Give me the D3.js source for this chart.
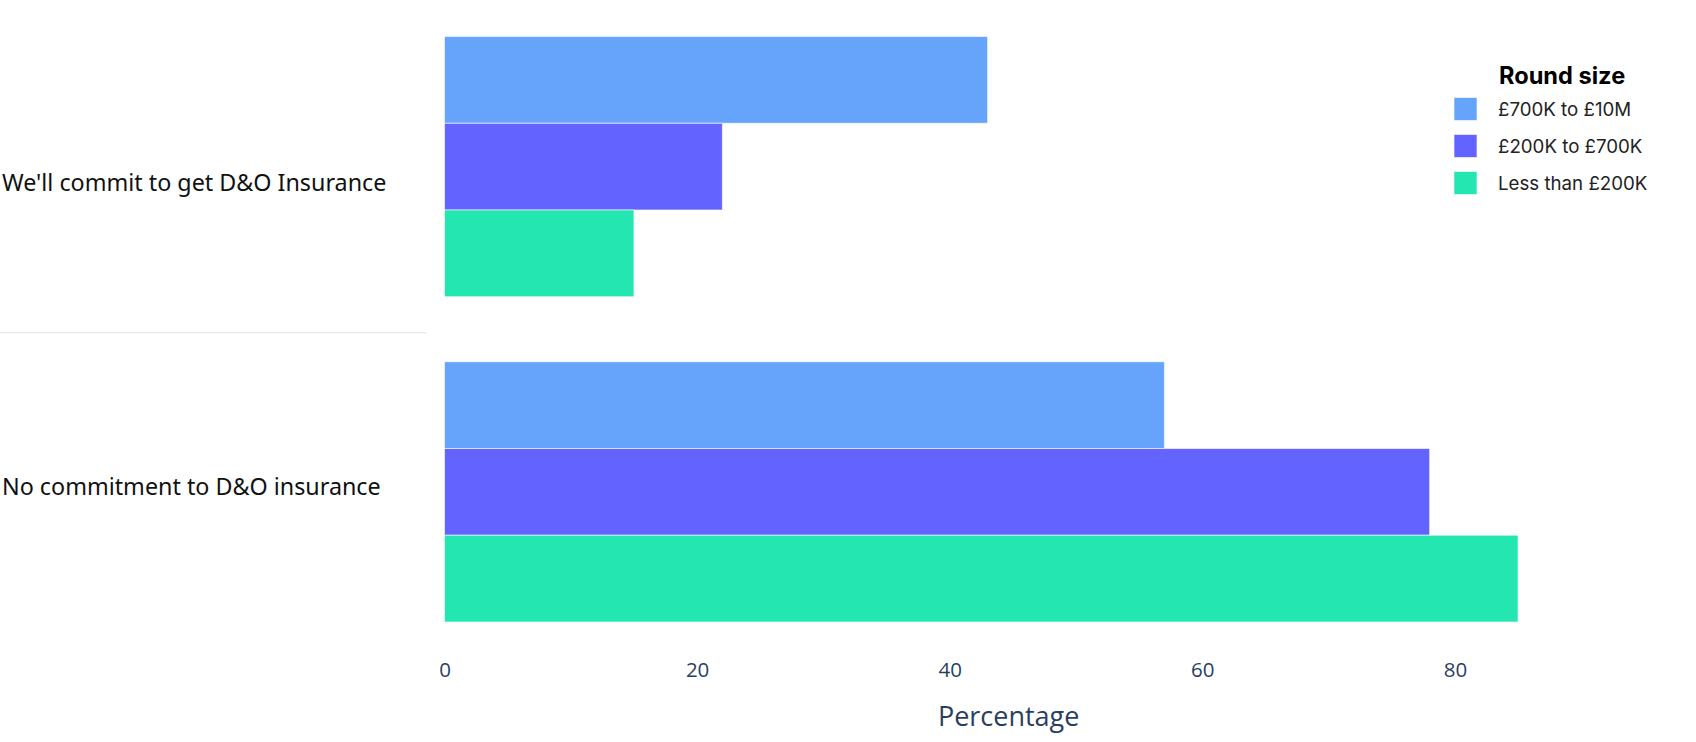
<!DOCTYPE html>
<html><head><meta charset="utf-8">
<script src="https://cdn.jsdelivr.net/npm/d3@7"></script>
<style>
html,body{margin:0;padding:0;background:#fff;}
svg{display:block;}
</style></head>
<body>
<svg id="chart" width="1696" height="742"></svg>
<script>
const categories = ["We'll commit to get D&O Insurance", "No commitment to D&O insurance"];
const seriesNames = ["£700K to £10M", "£200K to £700K", "Less than £200K"];
const valuesHigh = [43, 57];   // £700K to £10M
const valuesMid = [22, 78];    // £200K to £700K
const valuesLow = [15, 85];    // Less than £200K
const xTicks = [0, 20, 40, 60, 80];
const legendTitle = "Round size";
const xTitle = "Percentage";

const colors = ["#66a4fb", "#6363ff", "#23e6b0"];
const seriesValues = [valuesHigh, valuesMid, valuesLow];

const svg = d3.select("#chart");
const left = 444.5, pxPerUnit = 12.63;
const x = d3.scaleLinear().domain([0, 89.5]).range([left, left + 89.5 * pxPerUnit]);
const y = d3.scaleBand().domain(categories).range([4, 654.5]).padding(0);
const yInner = d3.scaleBand().domain(seriesNames)
  .range([y.bandwidth() * 0.1, y.bandwidth() * 0.9]).padding(0);

// separator line in label area
svg.append("line")
  .attr("x1", 0).attr("x2", 426)
  .attr("y1", y(categories[1]) + 3.5).attr("y2", y(categories[1]) + 3.5)
  .attr("stroke", "#e1e1e1").attr("stroke-width", 1.2);

// bars
seriesNames.forEach((s, si) => {
  svg.append("g").selectAll("rect")
    .data(categories.map((c, ci) => ({c, v: seriesValues[si][ci]})))
    .join("rect")
    .attr("x", x(0))
    .attr("y", d => y(d.c) + yInner(s))
    .attr("width", d => x(d.v) - x(0))
    .attr("height", yInner.bandwidth())
    .attr("fill", colors[si])
    .attr("stroke", "#ffffff").attr("stroke-opacity", 0.6).attr("stroke-width", 1);
});

// category labels
const labelDy = [24.5, 2.8];
svg.append("g").selectAll("text")
  .data(categories)
  .join("text")
  .attr("x", 2)
  .attr("y", (d, i) => y(d) + y.bandwidth() / 2 + labelDy[i])
  .attr("font-family", "'Noto Sans', 'Open Sans', sans-serif")
  .attr("font-size", 23.3)
  .attr("fill", "#111")
  .text(d => d);

// x axis
const xAxis = d3.axisBottom(x).tickValues(xTicks).tickSize(0).tickPadding(0);
const gx = svg.append("g").attr("transform", "translate(0,671)").call(xAxis);
gx.select(".domain").remove();
gx.selectAll("text")
  .attr("font-family", "'Open Sans', sans-serif")
  .attr("font-size", 20.5)
  .attr("fill", "#2a3f5f")
  .attr("dy", "0.3em");

svg.append("text")
  .attr("x", x(44.67)).attr("y", 726)
  .attr("text-anchor", "middle")
  .attr("font-family", "'Open Sans', sans-serif")
  .attr("font-size", 27)
  .attr("fill", "#2a3f5f")
  .text(xTitle);

// legend
const lg = svg.append("g");
lg.append("text")
  .attr("x", 1499).attr("y", 83.5)
  .attr("font-family", "Inter, sans-serif")
  .attr("font-weight", 700)
  .attr("font-size", 23.6)
  .attr("fill", "#000")
  .text(legendTitle);
seriesNames.forEach((s, i) => {
  const cy = 109 + i * 37;
  lg.append("rect")
    .attr("x", 1454).attr("y", cy - 11.5)
    .attr("width", 23).attr("height", 23)
    .attr("fill", colors[i])
    .attr("stroke", "#ffffff").attr("stroke-opacity", 0.6);
  lg.append("text")
    .attr("x", 1498).attr("y", cy + 6.8)
    .attr("font-family", "Inter, sans-serif")
    .attr("font-size", 18.7)
    .attr("fill", "#222")
    .text(s);
});
</script>
</body></html>
